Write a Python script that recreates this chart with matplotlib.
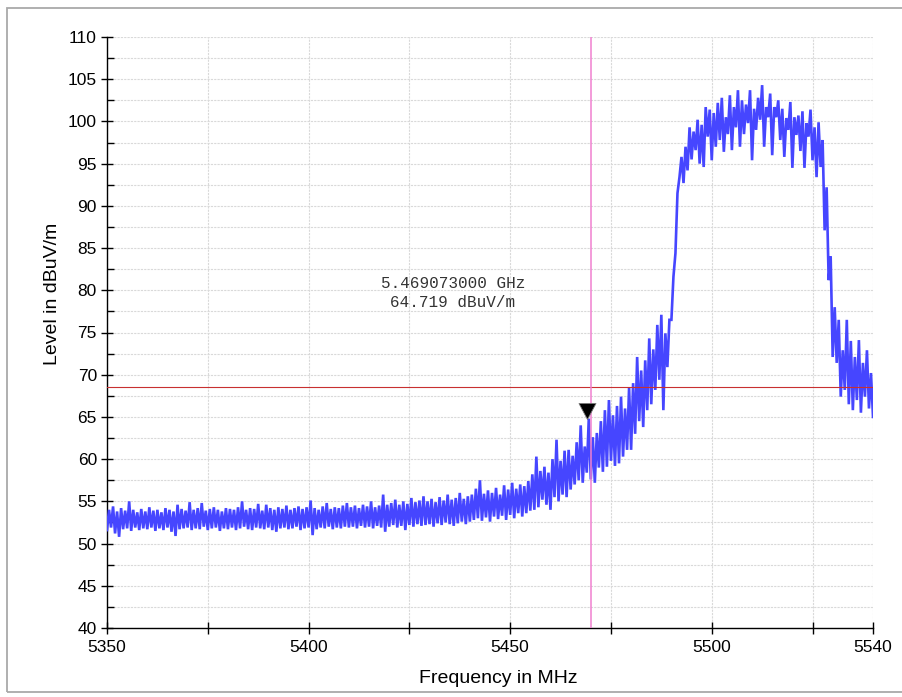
import numpy as np
import matplotlib
matplotlib.use("Agg")
import matplotlib.pyplot as plt
from matplotlib.patches import Rectangle
from matplotlib.path import Path
from matplotlib.ticker import MultipleLocator, FixedLocator, FixedFormatter

# ---------------- data ----------------
trace_start = 5350.0   # MHz
trace_step = 1.0       # MHz between successive low samples
# trace minima at 5350, 5351, ... 5540 MHz
trace_low = [
    51.6, 51.9, 51.2, 50.8, 51.7, 51.8, 51.5, 51.9, 51.6, 51.8,
    51.7, 51.9, 51.5, 51.8, 51.6, 51.9, 51.4, 50.9, 51.7, 51.8,
    51.9, 51.6, 51.8, 51.7, 52.0, 51.6, 51.8, 51.9, 51.5, 51.8,
    51.7, 51.9, 51.6, 51.8, 52.0, 51.7, 51.6, 51.9, 51.8, 51.7,
    51.9, 51.6, 51.4, 51.8, 51.9, 51.7, 51.8, 52.0, 51.6, 51.8,
    51.9, 51.0, 51.7, 51.9, 51.8, 52.0, 51.7, 51.9, 51.8, 52.0,
    51.9, 52.0, 51.8, 52.1, 51.9, 52.0, 51.8, 52.1, 51.9, 51.4,
    52.0, 52.2, 51.9, 52.1, 51.6, 52.2, 52.0, 52.3, 52.1, 52.2,
    52.3, 52.0, 52.4, 52.2, 52.5, 52.3, 52.1, 52.4, 52.6, 52.3,
    52.6, 52.8, 53.0, 52.7, 53.1, 52.6, 53.2, 52.9, 53.3, 52.8,
    53.4, 53.0, 53.6, 53.2, 53.6, 53.9, 54.0, 54.3, 55.2, 54.6,
    54.0, 55.5, 55.0, 55.8, 55.5, 56.4, 57.0, 57.5, 57.2, 58.4,
    57.6, 57.2, 59.0, 58.5, 59.1, 59.8, 59.2, 59.5, 60.3, 61.1,
    61.1, 63.0, 64.5, 63.8, 65.8, 66.5, 68.2, 69.4, 65.8, 70.9,
    76.5, 84.4, 93.4, 92.7, 94.2, 95.5, 96.6, 95.0, 94.6, 98.2,
    95.4, 97.0, 97.8, 96.4, 98.5, 96.6, 99.3, 97.0, 98.5, 99.8,
    95.4, 99.0, 100.2, 97.0, 100.5, 96.0, 100.5, 97.8, 95.8, 99.0,
    94.5, 98.4, 96.5, 94.5, 98.2, 95.4, 93.4, 94.6, 87.1, 81.2,
    72.1, 71.4, 67.4, 68.2, 66.5, 65.8, 67.0, 65.5, 67.4, 66.0,
    65.0,
]
# trace maxima at 5350.5, 5351.5, ... 5539.5 MHz
trace_high = [
    54.0, 54.4, 53.8, 54.2, 53.9, 55.0, 54.0, 53.7, 54.1, 53.8,
    54.3, 53.9, 54.0, 53.7, 54.2, 54.0, 53.8, 54.6, 54.1, 53.9,
    54.9, 54.0, 54.2, 54.8, 53.9, 54.1, 54.3, 54.0, 53.8, 54.2,
    54.1, 54.0, 54.3, 55.0, 54.0, 54.2, 54.1, 54.7, 53.9, 54.6,
    54.2, 54.0, 54.3, 54.1, 54.5, 54.0, 54.2, 54.4, 54.1, 54.3,
    55.1, 54.2, 54.0, 54.4, 54.8, 54.1, 54.3, 54.2, 54.5, 54.8,
    54.3, 54.5, 54.2, 54.6, 54.4, 55.0, 54.3, 54.5, 55.8, 54.6,
    54.8, 55.2, 54.6, 55.0, 54.7, 55.4, 54.9, 55.1, 55.6, 55.0,
    55.3, 54.9, 55.5, 55.1, 55.8, 55.2, 55.4, 56.0, 55.3, 55.6,
    55.8, 56.5, 57.5, 55.9, 56.3, 56.0, 56.6, 55.8, 56.9, 56.4,
    57.2, 56.5, 57.0, 56.8, 57.4, 58.2, 60.3, 58.6, 59.1, 58.4,
    60.0, 62.3, 59.8, 61.0, 61.1, 60.4, 62.0, 64.0, 61.5, 64.8,
    62.6, 63.1, 64.5, 65.8, 67.0, 65.2, 66.3, 67.4, 66.0, 68.5,
    69.0, 72.1, 70.5, 71.7, 74.3, 73.0, 75.9, 77.1, 74.9, 76.5,
    81.6, 91.5, 95.8, 97.0, 99.3, 98.8, 100.2, 99.6, 101.7, 101.4,
    101.0, 102.2, 102.8, 100.5, 103.1, 101.7, 103.7, 102.5, 102.0, 103.7,
    101.5, 102.8, 104.3, 101.7, 103.3, 101.7, 102.5, 101.5, 100.4, 102.3,
    100.5, 100.7, 101.2, 99.8, 101.4, 99.3, 99.9, 97.8, 92.2, 84.0,
    78.0, 76.5, 72.9, 76.5, 74.0, 72.1, 74.1, 71.4, 72.9, 70.2,
]

limit_level = 68.53          # dBuV/m, horizontal line
cursor_freq = 5470.0         # MHz, vertical line
marker_freq = 5469.073       # MHz
marker_level = 64.719        # dBuV/m
marker_text = "5.469073000 GHz\n64.719 dBuV/m"
text_freq = 5435.8
text_level = 79.7

x_min, x_max = 5350, 5540
y_min, y_max = 40, 110
x_ticks = [5350, 5375, 5400, 5425, 5450, 5475, 5500, 5525, 5540]
x_tick_labels = ["5350", "", "5400", "", "5450", "", "5500", "", "5540"]

# ---------------- build trace (interleave minima / maxima) ----------------
n_low = len(trace_low)
f_low = trace_start + trace_step * np.arange(n_low)
f_high = f_low[:-1] + trace_step / 2
freq = np.empty(n_low + len(trace_high))
level = np.empty_like(freq)
freq[0::2] = f_low
freq[1::2] = f_high
level[0::2] = trace_low
level[1::2] = trace_high

# ---------------- figure ----------------
W, H = 903, 697
fig = plt.figure(figsize=(W / 100, H / 100), dpi=100)
fig.patch.set_facecolor("white")
fig.patches.append(Rectangle((7 / W, 1 - 692 / H), 1.0, (692 - 8) / H,
                             transform=fig.transFigure, fill=False,
                             edgecolor="#a9a9a9", linewidth=1.3))

ax = fig.add_axes([107 / W, 1 - 628 / H, 766 / W, 591 / H])
ax.set_xlim(x_min, x_max)
ax.set_ylim(y_min, y_max)

for s in ("top", "right"):
    ax.spines[s].set_visible(False)
for s in ("left", "bottom"):
    ax.spines[s].set_color("black")
    ax.spines[s].set_linewidth(1.0)

ax.xaxis.set_major_locator(FixedLocator(x_ticks))
ax.xaxis.set_major_formatter(FixedFormatter(x_tick_labels))
ax.yaxis.set_major_locator(MultipleLocator(5))
ax.yaxis.set_minor_locator(MultipleLocator(2.5))

ax.tick_params(axis="x", which="major", direction="inout", length=8,
               width=1.0, pad=5, labelsize=12.5, colors="black")
ax.tick_params(axis="y", which="major", direction="inout", length=8.5,
               width=1.0, pad=3, labelsize=12.5, colors="black")
ax.tick_params(axis="y", which="minor", direction="in", length=5, width=1.0)

for lab in ax.get_xticklabels() + ax.get_yticklabels():
    lab.set_fontfamily("Liberation Sans")

ax.grid(True, which="both", color="#d9d9d9", linestyle=(0, (2, 1)),
        linewidth=0.8)
ax.set_axisbelow(True)

ax.plot(freq, level, color="#4646ff", linewidth=1.9, zorder=3,
        solid_joinstyle="miter")

ax.axhline(limit_level, color="#c83030", linewidth=0.8, zorder=4)
ax.axvline(cursor_freq, color="#f080d0", linewidth=1.1, zorder=4)

tri = Path([(-8.5, 16), (8.5, 16), (0, 0), (-8.5, 16)],
           [Path.MOVETO, Path.LINETO, Path.LINETO, Path.CLOSEPOLY])
ax.plot([marker_freq], [marker_level], marker=tri, markersize=23,
        color="black", markeredgecolor="#777777", markeredgewidth=0.6,
        linestyle="none", zorder=6, clip_on=False)

ax.text(text_freq, text_level, marker_text, ha="center", va="center",
        multialignment="center", fontfamily="Liberation Mono",
        fontsize=11.5, color="#333333", linespacing=1.3, zorder=6)

ax.set_xlabel("Frequency in MHz", fontfamily="Liberation Sans",
              fontsize=14, color="black")
ax.set_ylabel("Level in dBuV/m", fontfamily="Liberation Sans",
              fontsize=14, color="black")
ax.xaxis.set_label_coords(0.5104, -0.0711)
ax.yaxis.set_label_coords(-0.060, 0.565)

fig.savefig("out.png", dpi=100, facecolor="white")
